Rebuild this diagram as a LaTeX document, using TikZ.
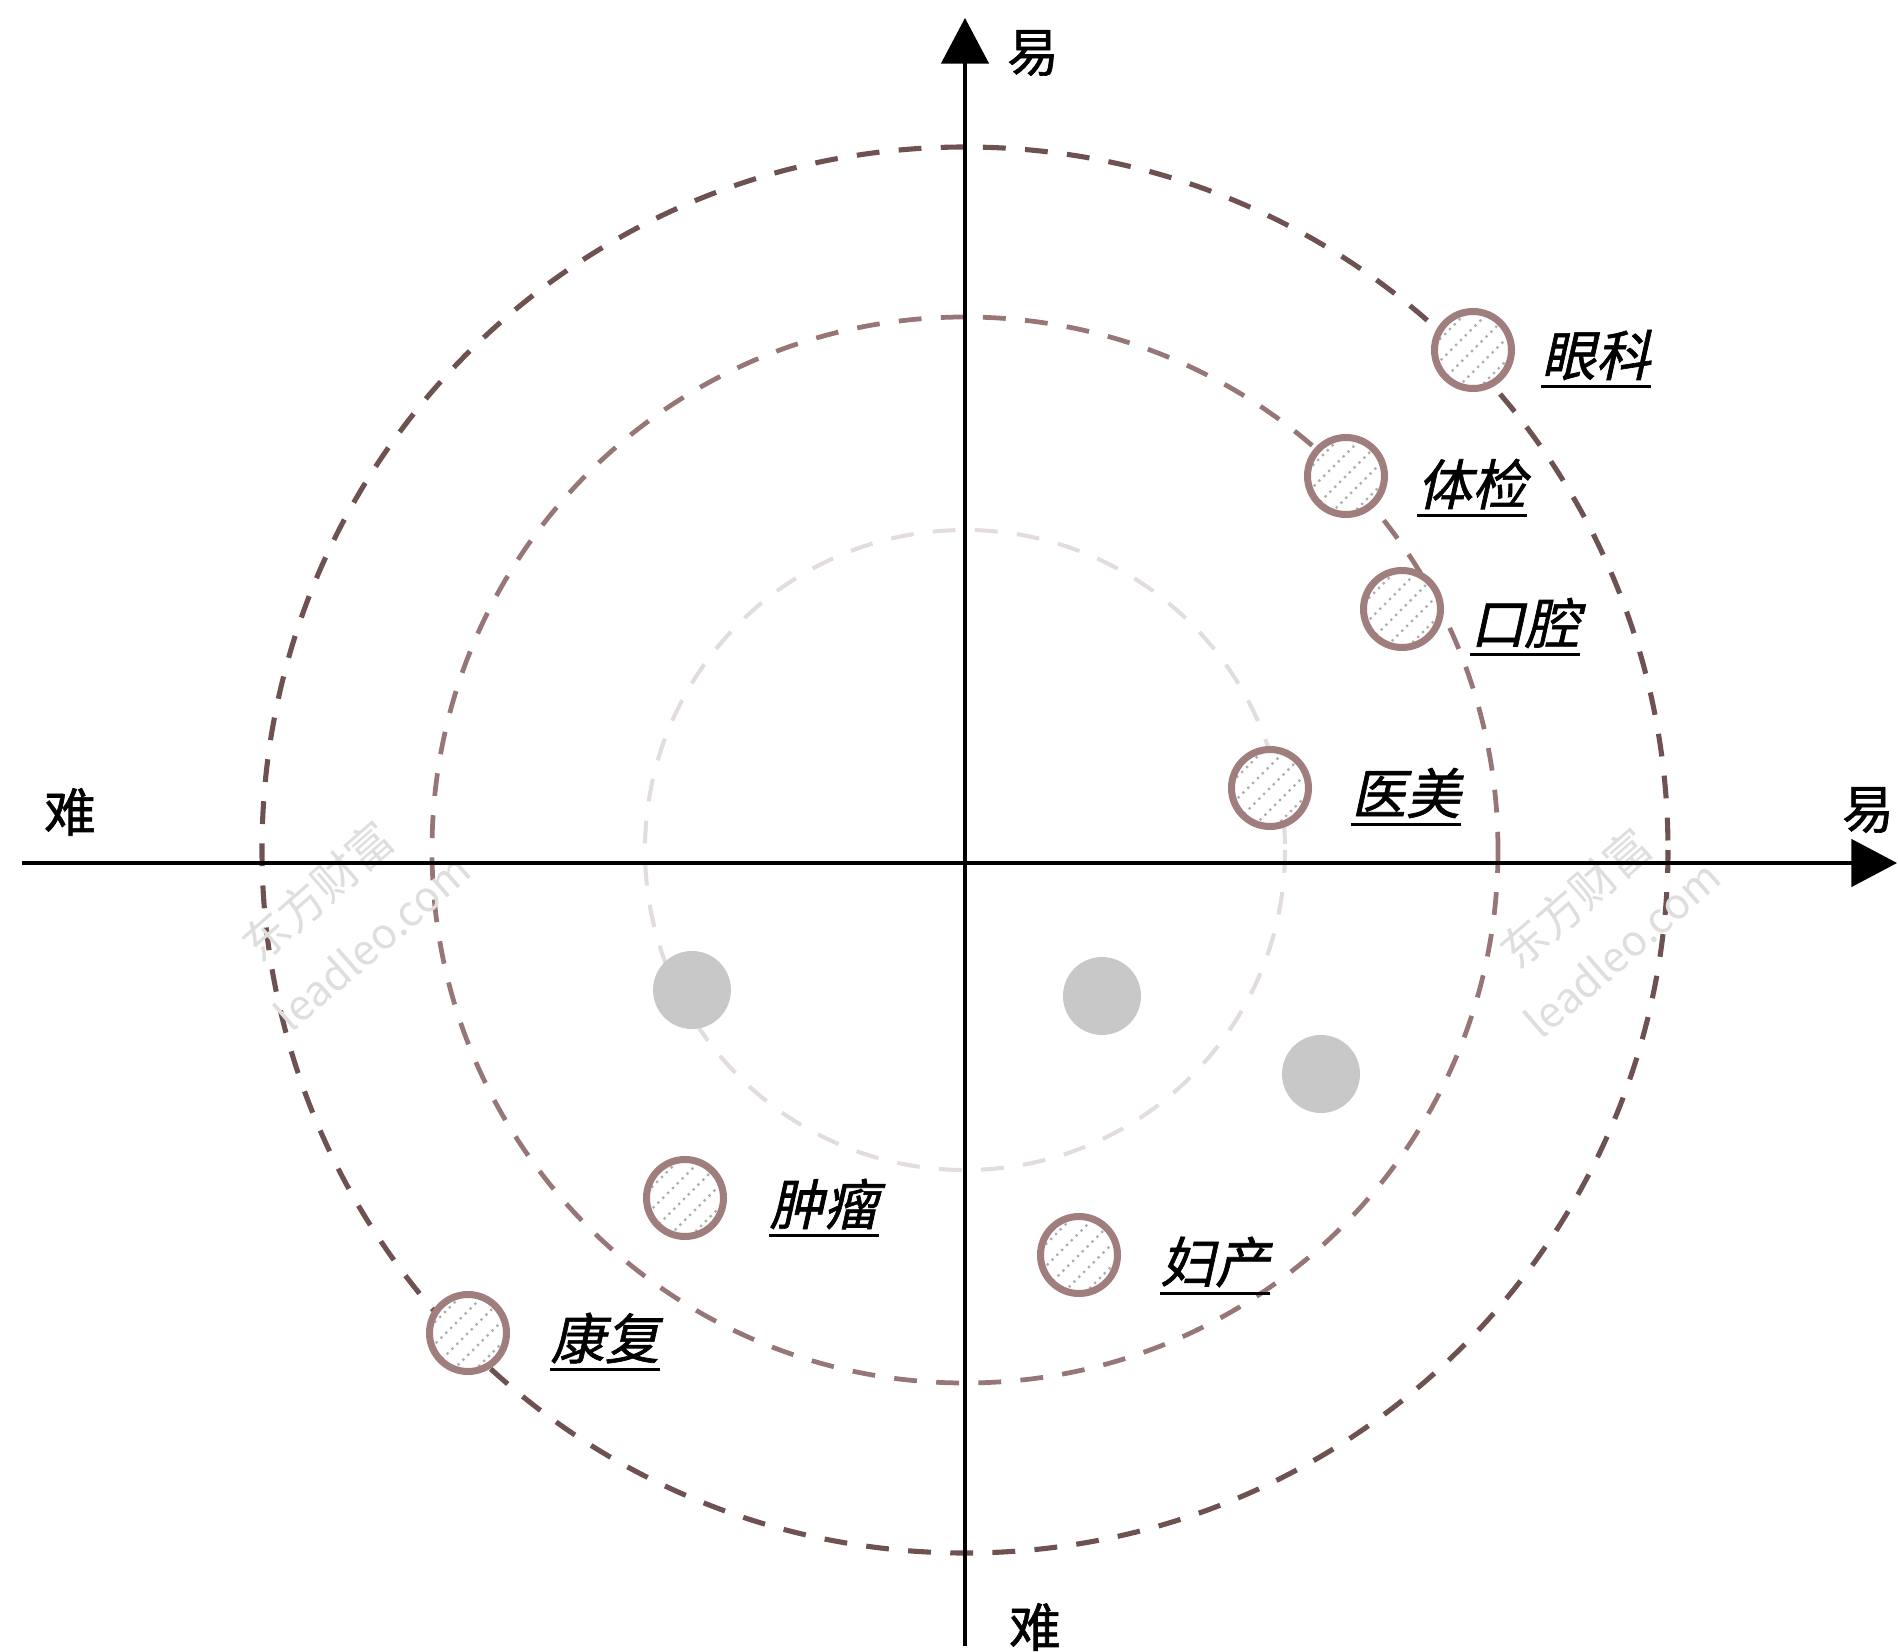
\documentclass[tikz,border=0pt]{standalone}
\usepackage{fontspec}
\newfontfamily\cjk{Noto Sans CJK SC}
\newfontfamily\cjkbold{Noto Sans CJK SC}[FakeBold=1.2]
\newfontfamily\cjkit{Noto Sans CJK SC}[FakeSlant=0.22,FakeBold=1.2]
\usetikzlibrary{arrows.meta}
\definecolor{ringout}{RGB}{110,82,82}
\definecolor{ringmid}{RGB}{150,118,118}
\definecolor{ringin}{RGB}{226,220,220}
\definecolor{markring}{RGB}{160,126,126}
\definecolor{dotgray}{RGB}{200,200,200}
\definecolor{hatchgray}{RGB}{175,175,175}
\definecolor{wmgray}{RGB}{222,222,222}
\tikzset{
  guide/.style={dash pattern=on 13pt off 11pt},
  axis/.style={line width=1.9pt, black, -{Triangle[length=26pt,width=27pt]}},
  axlabel/.style={font=\cjkbold\fontsize{29.5pt}{31pt}\selectfont, inner sep=0pt},
  marker/.style={circle, draw=markring, line width=4pt, fill=white, minimum size=77*0.02cm, inner sep=0pt,
    path picture={
      \foreach \o in {-33,-22,...,33}
        \draw[hatchgray, line width=1.3pt, dash pattern=on 1.3pt off 2.6pt, shift={(path picture bounding box.center)}]
          (\o-60,\o+60) -- (\o+60,\o-60);
    }},
  graydot/.style={circle, fill=dotgray, minimum size=78*0.02cm, inner sep=0pt},
  catlabel/.style={font=\cjkit\fontsize{31pt}{33pt}\selectfont, inner xsep=0pt, inner ysep=3.5pt},
  uline/.style={line width=1.8pt, black},
  wm/.style={text=wmgray, rotate=41, inner sep=0pt}
}
\begin{document}
\begin{tikzpicture}[x=0.02cm, y=-0.02cm]
\useasboundingbox (0,0) rectangle (1898,1652);
% centre of the guide circles
\coordinate (c) at (965,850);
% dashed guide circles
\draw[guide, ringin, line width=2.3pt] (c) circle[radius=320];
\draw[guide, ringmid, line width=2.7pt] (c) circle[radius=533];
\draw[guide, ringout, line width=2.9pt] (c) circle[radius=703];
% watermarks
\node[wm, font=\cjk\fontsize{26pt}{27pt}\selectfont] (wm1) at (318,891) {东方财富};
\node[wm, font=\cjk\fontsize{24pt}{25pt}\selectfont] (wm2) at (372,942) {leadleo.com};
\node[wm, font=\cjk\fontsize{26pt}{27pt}\selectfont] (wm3) at (1576,898) {东方财富};
\node[wm, font=\cjk\fontsize{24pt}{25pt}\selectfont] (wm4) at (1622,949) {leadleo.com};
% axes
\coordinate (xl) at (22,863);
\coordinate (xr) at (1897,863);
\coordinate (yb) at (965,1646);
\coordinate (yt) at (965,18);
\draw[axis] (xl) -- (xr);
\draw[axis] (yb) -- (yt);
\node[axlabel] (lt) at (1033,53) {易};
\node[axlabel] (lr) at (1868,810) {易};
\node[axlabel] (ll) at (70,812) {难};
\node[axlabel] (lb) at (1035,1627) {难};
% grey dots
\node[graydot] (g1) at (692,990) {};
\node[graydot] (g2) at (1102,996) {};
\node[graydot] (g3) at (1321,1074) {};
% markers
\node[marker] (m1) at (1473,350) {};
\node[marker] (m2) at (1346,476) {};
\node[marker] (m3) at (1402,609) {};
\node[marker] (m4) at (1270,788) {};
\node[marker] (m5) at (685,1198) {};
\node[marker] (m6) at (1079,1255) {};
\node[marker] (m7) at (468,1333) {};
% labels
\node[catlabel] (t1) at (1596,355) {眼科};
\node[catlabel] (t2) at (1472,484) {体检};
\node[catlabel] (t3) at (1525,623) {口腔};
\node[catlabel] (t4) at (1406,793) {医美};
\node[catlabel] (t5) at (824,1204) {肿瘤};
\node[catlabel] (t6) at (1215,1262) {妇产};
\node[catlabel] (t7) at (605,1338) {康复};
\foreach \t in {t1,t2,t3,t4,t5,t6,t7}
  \draw[uline] (\t.south west) -- (\t.south east);
\end{tikzpicture}
\end{document}
